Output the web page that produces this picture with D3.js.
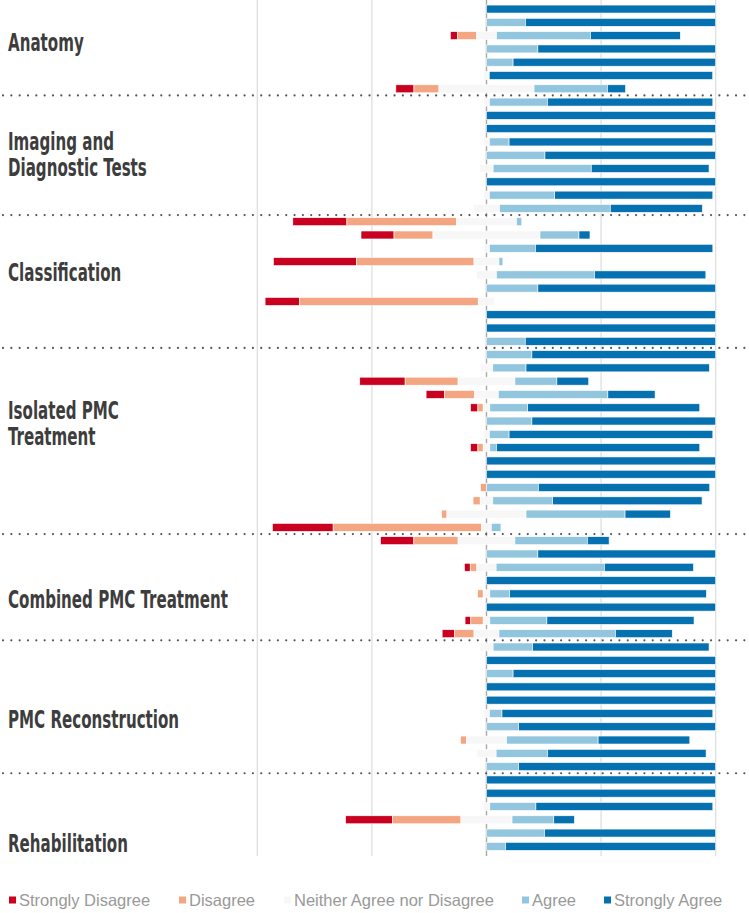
<!DOCTYPE html>
<html>
<head>
<meta charset="utf-8">
<script src="https://cdn.jsdelivr.net/npm/d3@7/dist/d3.min.js"></script>
<style>
  html, body { margin: 0; padding: 0; background: #fff; }
  svg { display: block; }
</style>
</head>
<body>
<svg id="chart" width="749" height="913"></svg>
<script>
// ---------- DATA (percent of respondents per statement) ----------
const categories = ["Strongly Disagree", "Disagree", "Neither Agree nor Disagree", "Agree", "Strongly Agree"];
const colors = ["#ca0020", "#f4a582", "#f7f7f7", "#92c5de", "#0571b0"];

const groupNames = ["Anatomy", "Imaging and\nDiagnostic Tests", "Classification", "Isolated PMC\nTreatment",
                    "Combined PMC Treatment", "PMC Reconstruction", "Rehabilitation"];
const groupSizes = [7, 9, 10, 14, 8, 10, 6];

const stronglyDisagree = [
  0, 0, 3.1, 0, 0, 0, 7.9,
  0, 0, 0, 0, 0, 0, 0, 0, 0,
  23.6, 14.4, 0, 36.2, 0, 0, 15, 0, 0, 0,
  0, 0, 19.8, 8, 3.2, 0, 0, 3.2, 0, 0, 0, 0, 0, 26.5,
  14.5, 0, 2.5, 0, 0, 0, 2.5, 5.5,
  0, 0, 0, 0, 0, 0, 0, 0, 0, 0,
  0, 0, 0, 20.5, 0, 0
];
const disagree = [
  0, 0, 8.3, 0, 0, 0, 10.9,
  0, 0, 0, 0, 0, 0, 0, 0, 0,
  47.8, 17, 0, 51.3, 0, 0, 78, 0, 0, 0,
  0, 0, 23.1, 13.2, 2.3, 0, 0, 2.3, 0, 0, 2.6, 3.1, 2.3, 64.8,
  19.3, 0, 2.9, 0, 2.4, 0, 5.4, 8.4,
  0, 0, 0, 0, 0, 0, 0, 2.5, 0, 0,
  0, 0, 0, 29.8, 0, 0
];
const neutral = [
  0, 0, 8.7, 0, 0, 2.4, 41.5,
  2.5, 0, 0, 2.5, 0, 5.8, 0, 2.5, 11.4,
  26.2, 46.7, 2.5, 10.9, 8.6, 0, 7.2, 0, 0, 0,
  0, 5.5, 24.8, 10.3, 2.9, 0, 2.5, 2.9, 0, 0, 0, 5.5, 34.5, 4.2,
  24.8, 0, 8.4, 0, 2.9, 0, 2.9, 10.9,
  5.8, 0, 0, 0, 0, 2.5, 0, 17.6, 8.4, 0,
  0, 0, 2.9, 22.3, 0, 0
];
const agree = [
  0, 17, 41, 22.4, 11.6, 0, 32,
  25.3, 0, 0, 8.6, 25.5, 42.8, 0, 28.5, 48.3,
  2.3, 17, 20.1, 1.7, 42.8, 22.4, 0, 0, 0, 16.9,
  19.8, 14.5, 18.3, 47.8, 16.5, 19.8, 8.6, 2.9, 0, 0, 22.6, 26.1, 43.2, 4.2,
  31.6, 22.4, 47.2, 0, 8.6, 0, 24.9, 50.8,
  17.2, 0, 11.6, 0, 0, 5.5, 14, 39.9, 22.4, 14,
  0, 0, 20.1, 18.2, 25.3, 8.3
];
const stronglyAgree = [
  100, 83, 39.2, 77.6, 88.4, 97.5, 7.9,
  72.2, 100, 100, 88.9, 74.5, 51.4, 100, 69, 40.2,
  0, 4.8, 77.4, 0, 48.6, 77.6, 0, 100, 100, 83.1,
  80.2, 80, 13.9, 20.6, 75.1, 80.2, 88.9, 88.7, 100, 100, 74.8, 65.2, 19.8, 0,
  9.5, 77.6, 38.9, 100, 85.9, 100, 64.2, 24.8,
  77, 100, 88.4, 100, 100, 92, 86, 40, 69.2, 86,
  100, 100, 77.2, 9, 74.7, 91.7
];
const xTicks = [-100, -50, 0, 50, 100];

// ---------- LAYOUT ----------
const svg = d3.select("#chart");
const W = 749;
const x = d3.scaleLinear().domain([-100, 100]).range([257.3, 715.7]);
const nRows = stronglyAgree.length;
const y = d3.scaleBand().domain(d3.range(nRows)).range([2.4, 853]).paddingInner(0.4).paddingOuter(0.2);

const series = [stronglyDisagree, disagree, neutral, agree, stronglyAgree];

// gridlines
svg.append("g").selectAll("line").data(xTicks).join("line")
  .attr("x1", d => x(d)).attr("x2", d => x(d))
  .attr("y1", 0).attr("y2", 856)
  .attr("stroke", d => d === 0 ? "#a8a8a8" : "#dcdcdc")
  .attr("stroke-width", d => d === 0 ? 1.4 : 1.2);

// stacked segments
const segs = [];
for (let i = 0; i < nRows; i++) {
  let start = -(stronglyDisagree[i] + disagree[i] + neutral[i] / 2);
  for (let k = 0; k < 5; k++) {
    const v = series[k][i];
    if (v > 0) segs.push({ row: i, k, x0: start, x1: start + v });
    start += v;
  }
}
svg.append("g").selectAll("rect").data(segs).join("rect")
  .attr("x", d => x(d.x0))
  .attr("width", d => x(d.x1) - x(d.x0))
  .attr("y", d => y(d.row))
  .attr("height", y.bandwidth())
  .attr("fill", d => colors[d.k])
  .attr("stroke", "#ffffff")
  .attr("stroke-width", 0.6);

// group separators
const bounds = d3.cumsum(groupSizes).slice(0, -1);
const step = y.step();
svg.append("g").selectAll("line").data(bounds).join("line")
  .attr("x1", 3).attr("x2", W)
  .attr("y1", d => y(d) - step * 0.2)
  .attr("y2", d => y(d) - step * 0.2)
  .attr("stroke", "#555")
  .attr("stroke-width", 2.2)
  .attr("stroke-linecap", "round")
  .attr("stroke-dasharray", "0 8.33");

// group labels (baselines)
const labelBaselines = [51, 150, 281, 419, 608, 728, 852];
const lab = svg.append("g")
  .attr("font-family", "'DejaVu Sans Condensed', 'DejaVu Sans', sans-serif")
  .attr("font-stretch", "condensed")
  .attr("font-weight", "bold")
  .attr("fill", "#3d3d3d");
groupNames.forEach((name, gi) => {
  name.split("\n").forEach((ln, li) => {
    lab.append("text")
      .attr("transform", `translate(8,${labelBaselines[gi] + li * 26}) scale(0.78,1.16)`)
      .attr("font-size", 21.5)
      .text(ln);
  });
});

// legend
const legendX = [9, 179, 284, 522, 604];
const lg = svg.append("g").attr("font-family", "'Liberation Sans', Arial, sans-serif");
categories.forEach((c, i) => {
  lg.append("rect").attr("x", legendX[i]).attr("y", 896.5).attr("width", 7).attr("height", 7)
    .attr("fill", colors[i]);
  lg.append("text").attr("x", legendX[i] + 10).attr("y", 906)
    .attr("font-size", 16.5).attr("fill", "#999").text(c);
});
</script>
</body>
</html>
